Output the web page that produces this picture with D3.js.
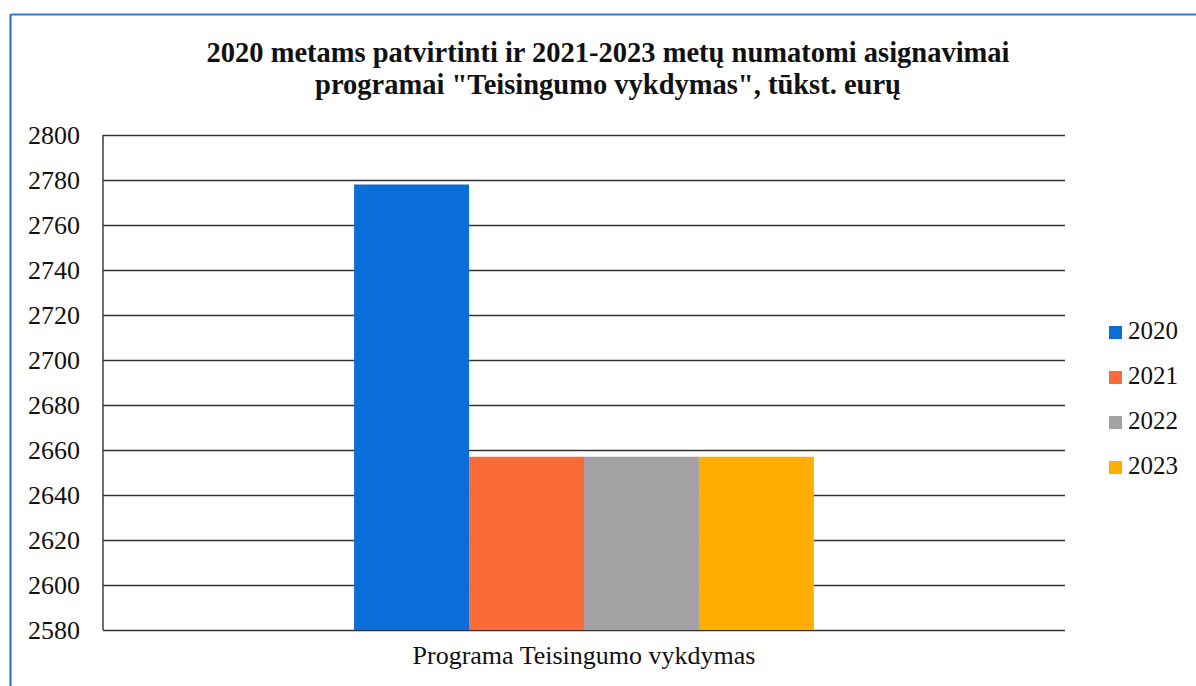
<!DOCTYPE html>
<html>
<head>
<meta charset="utf-8">
<script src="https://cdn.jsdelivr.net/npm/d3@7"></script>
</head>
<body style="margin:0; background:#fff">
<svg id="chart" width="1196" height="686"></svg>
<script>
// data
const categories = ['Programa Teisingumo vykdymas'];
const years = ['2020', '2021', '2022', '2023'];
const values = [2778, 2657, 2657, 2657];
const colors = ['#0b6dd7', '#fa6b3a', '#a3a1a3', '#ffae00'];
const yTicks = [2580, 2600, 2620, 2640, 2660, 2680, 2700, 2720, 2740, 2760, 2780, 2800];
const titleLines = ['2020 metams patvirtinti ir 2021-2023 metų numatomi asignavimai',
                    'programai "Teisingumo vykdymas", tūkst. eurų'];

const width = 1196, height = 686;
const plot = { left: 103, right: 1065, top: 135, bottom: 630 };
const serif = "'Liberation Serif', 'Times New Roman', Tinos, serif";

const svg = d3.select('#chart');

// frame (blue border, top and left visible)
svg.append('line')
    .attr('x1', 10.5).attr('x2', width).attr('y1', 14.5).attr('y2', 14.5)
    .attr('stroke', '#2a7ad0').attr('stroke-width', 2);
svg.append('line')
    .attr('x1', 10.5).attr('x2', 10.5).attr('y1', 14.5).attr('y2', height)
    .attr('stroke', '#2a5fd0').attr('stroke-width', 2);

// scales
const x0 = d3.scaleBand()
    .domain(categories)
    .range([plot.left, plot.right])
    .paddingInner(0)
    .paddingOuter(0.546);

const x1 = d3.scaleBand()
    .domain(years)
    .range([0, x0.bandwidth()]);

const y = d3.scaleLinear()
    .domain([2580, 2800])
    .range([plot.bottom, plot.top]);

// gridlines + y labels
const yAxis = svg.append('g')
    .attr('class', 'y-axis')
    .attr('transform', `translate(${plot.left},0)`)
    .call(d3.axisLeft(y)
        .tickValues(yTicks)
        .tickSize(-(plot.right - plot.left))
        .tickPadding(23)
        .tickFormat(d3.format('d')));

yAxis.select('.domain').remove();
yAxis.selectAll('.tick line')
    .attr('stroke', '#333')
    .attr('stroke-width', 1.4);
yAxis.selectAll('.tick text')
    .attr('dy', '0.34em')
    .attr('fill', '#111')
    .style('font-family', serif)
    .style('font-size', '26px');

// left edge of plot area
svg.append('line')
    .attr('x1', plot.left).attr('x2', plot.left)
    .attr('y1', plot.top).attr('y2', plot.bottom)
    .attr('stroke', '#333').attr('stroke-width', 1.4);

// bars
const group = svg.append('g')
    .attr('transform', `translate(${x0(categories[0])},0)`);

group.selectAll('.bar')
    .data(years.map((yr, i) => ({ year: yr, value: values[i], color: colors[i] })))
    .enter()
    .append('rect')
        .attr('class', 'bar')
        .attr('x', d => x1(d.year))
        .attr('width', x1.bandwidth())
        .attr('y', d => y(d.value))
        .attr('height', d => plot.bottom - y(d.value))
        .attr('fill', d => d.color);

// x label
svg.append('text')
    .attr('x', x0(categories[0]) + x0.bandwidth() / 2)
    .attr('y', 664)
    .attr('text-anchor', 'middle')
    .attr('fill', '#111')
    .style('font-family', serif)
    .style('font-size', '26px')
    .text(categories[0]);

// title
svg.selectAll('.title')
    .data(titleLines)
    .enter()
    .append('text')
        .attr('class', 'title')
        .attr('x', 608)
        .attr('y', (d, i) => 62 + i * 32)
        .attr('text-anchor', 'middle')
        .attr('fill', '#111')
        .style('font-family', serif)
        .style('font-size', '28.5px')
        .style('font-weight', 'bold')
        .text(d => d);

// legend
const legend = svg.append('g')
    .attr('transform', 'translate(1109,326)');

const item = legend.selectAll('.item')
    .data(years)
    .enter()
    .append('g')
        .attr('class', 'item')
        .attr('transform', (d, i) => `translate(0,${i * 45})`);

item.append('rect')
    .attr('width', 13)
    .attr('height', 13)
    .attr('fill', (d, i) => colors[i]);

item.append('text')
    .attr('x', 19)
    .attr('y', 13)
    .attr('fill', '#111')
    .style('font-family', serif)
    .style('font-size', '25px')
    .text(d => d);
</script>
</body>
</html>
